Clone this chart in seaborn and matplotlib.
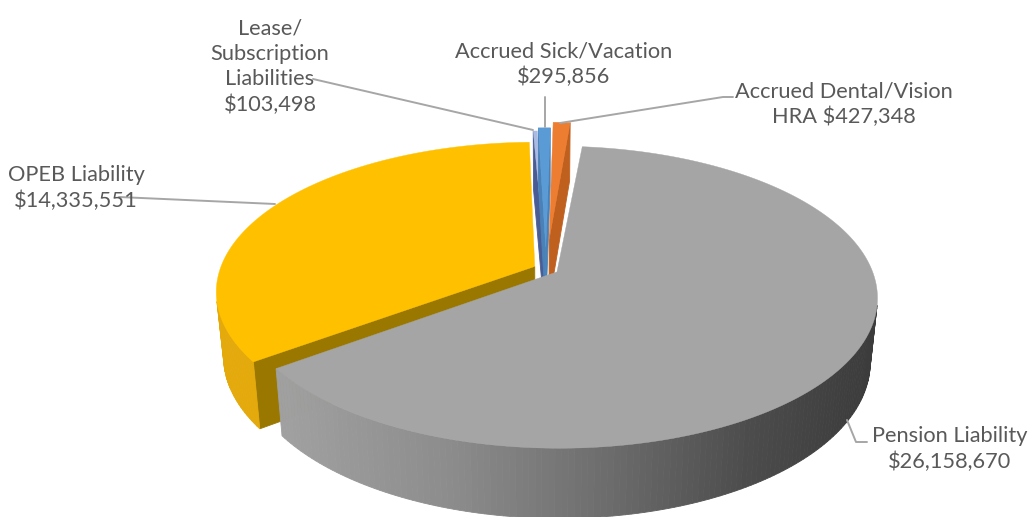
import numpy as np
import matplotlib
matplotlib.use('Agg')
import matplotlib.pyplot as plt
import seaborn as sns

# values, in drawing order (back slices first, pension last)
labels = ['OPEB Liability\n$14,335,551',
          'Lease/\nSubscription\nLiabilities\n$103,498',
          'Accrued Sick/Vacation\n$295,856',
          'Accrued Dental/Vision\nHRA $427,348',
          'Pension Liability\n$26,158,670']
values = [14335551, 103498, 295856, 427348, 26158670]
explode = [0.04, 0.125, 0.155, 0.21, 0.04]
turn = [1.0, 0, 0, 0, 1.0]  # small rotation to follow the picture
top_colors = ['#ffc000', '#a9bbe3', '#5b9bd5', '#ed7d31', '#a5a5a5']
cut_colors = ['#9a7800', '#4a5c94', '#4a82b8', '#c0601f', '#8a8a8a']

sns.set_theme(style='white')
plt.rcParams['font.family'] = ['Lato', 'DejaVu Sans']

# pie geometry, pixels
cx, cy = 546, 269
rx, ry, persp = 314.6, 145.8, 0.167
depth, shrink, stretch = 63.5, 0.978, 1.037
yellow_rotation = 232.6  # where OPEB starts, clockwise from north


def project(u, v):
    w = 1 + persp * v
    return cx + rx * u / w, cy - ry * v / w


def drop(p):
    return cx + shrink * (p[0] - cx), cy + stretch * (p[1] - cy) + depth


def gray_wall(x):
    g = np.interp(x, [285, 450, 600, 750, 870], [160, 140, 110, 76, 60]) / 255
    return (g, g, g)


def wall(ax, p, q, color, z):
    a, b = drop(p), drop(q)
    quad = [p, q, b, a]
    xs = [c[0] for c in quad]
    ys = [c[1] for c in quad]
    area = sum(xs[i] * ys[(i + 1) % 4] - xs[(i + 1) % 4] * ys[i] for i in range(4))
    if area < 0:
        ax.fill(xs, ys, color=color, lw=0.6, zorder=z)


def draw_slice(ax, start, span, exp, top, cut, arc_color, z):
    mid = np.radians(start + span / 2)
    u0, v0 = exp * np.sin(mid), exp * np.cos(mid)
    th = np.radians(np.linspace(start, start + span, max(3, int(span) + 2)))
    apex = project(u0, v0)
    rim = [project(u0 + np.sin(t), v0 + np.cos(t)) for t in th]
    wall(ax, apex, rim[0], cut, z)
    wall(ax, rim[-1], apex, cut, z)
    for p, q in zip(rim[:-1], rim[1:]):
        wall(ax, p, q, arc_color((p[0] + q[0]) / 2), z)
    pts = [apex] + rim
    ax.fill([c[0] for c in pts], [c[1] for c in pts], color=top, lw=0.3, zorder=z + 0.5)


fig = plt.figure(figsize=(10.34, 5.17), dpi=100)
ax = fig.add_axes([0, 0, 1, 1])
ax.set_xlim(0, 1034)
ax.set_ylim(517, 0)
ax.axis('off')

arc_colors = [lambda x: '#e4aa0c', lambda x: '#8497c8', lambda x: '#4a82b8',
              lambda x: '#c0601f', gray_wall]
palette = sns.color_palette(top_colors)
spans = np.array(values) / sum(values) * 360
start = yellow_rotation
for i in range(5):
    draw_slice(ax, start + turn[i], spans[i], explode[i], palette[i], cut_colors[i], arc_colors[i], i + 1)
    start += spans[i]

# leader lines
line_color = '#a6a6a6'
ax.plot([313, 533], [79, 130], color=line_color, lw=1.4, zorder=7)
ax.plot([119, 275], [197, 204], color=line_color, lw=1.4, zorder=7)
ax.plot([545, 545], [97, 127], color=line_color, lw=1.4, zorder=7)
ax.plot([560, 723, 733], [123, 97, 97], color=line_color, lw=1.4, zorder=7)
ax.plot([847, 856, 867], [420, 442, 442], color=line_color, lw=1.4, zorder=7)

# data labels
label_pos = [(76, 188), (270, 67), (564, 64), (844, 104), (950, 449)]
for (x, y), text in zip(label_pos, labels):
    ax.text(x, y, text, ha='center', va='center', color='#595959', fontsize=15.7,
            linespacing=1.33, zorder=8)

fig.savefig('out.png', dpi=100)
